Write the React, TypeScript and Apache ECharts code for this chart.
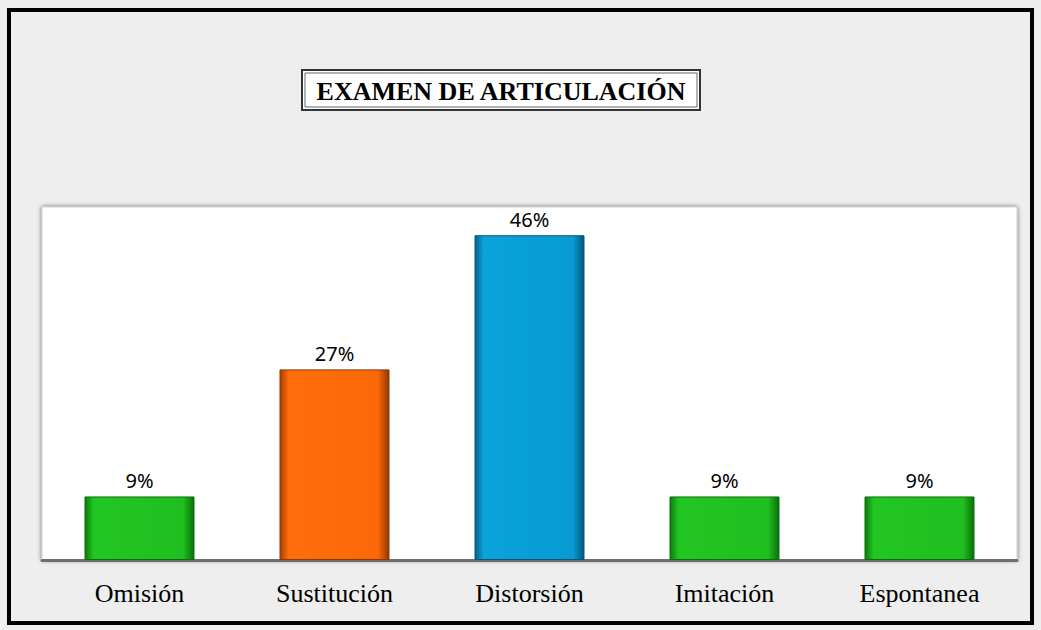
import React, { useEffect, useRef } from "react";
import * as echarts from "echarts";

const categories = ["Omisión", "Sustitución", "Distorsión", "Imitación", "Espontanea"];
const values = [9, 27, 46, 9, 9];
const valueLabels = ["9%", "27%", "46%", "9%", "9%"];
const titleText = "EXAMEN DE ARTICULACIÓN";

const palette = [
  ["#0b7d0b", "#22c622", "#1fbf1f", "#0a6f0a"],
  ["#a84000", "#ff6d0c", "#fb6808", "#8f3700"],
  ["#05608a", "#0aa3da", "#079bd2", "#04567c"],
  ["#0b7d0b", "#22c622", "#1fbf1f", "#0a6f0a"],
  ["#0b7d0b", "#22c622", "#1fbf1f", "#0a6f0a"],
];

function grad(c: string[]) {
  return new echarts.graphic.LinearGradient(0, 0, 1, 0, [
    { offset: 0, color: c[0] },
    { offset: 0.08, color: c[1] },
    { offset: 0.9, color: c[2] },
    { offset: 1, color: c[3] },
  ]);
}

export default function App() {
  const ref = useRef<HTMLDivElement>(null);
  useEffect(() => {
    document.body.style.margin = "0";
    const chart = echarts.init(ref.current!, null, { renderer: "svg" });
    chart.setOption({
      animation: false,
      backgroundColor: "#eeeeee",
      grid: {
        left: 42,
        right: 24,
        top: 207,
        bottom: 70,
        show: true,
        backgroundColor: "#ffffff",
        borderColor: "#d0d0d0",
        borderWidth: 1,
        shadowColor: "rgba(0,0,0,0.6)",
        shadowBlur: 4,
        shadowOffsetX: 0,
        shadowOffsetY: 0,
      },
      xAxis: {
        type: "category",
        data: categories,
        axisLine: { show: true, lineStyle: { color: "#6e6e6e", width: 3 } },
        axisTick: { show: false },
        axisLabel: {
          color: "#000",
          fontFamily: "Liberation Serif",
          fontSize: 26,
          margin: 20,
        },
      },
      yAxis: {
        type: "value",
        min: 0,
        max: 50,
        show: false,
        splitLine: { show: false },
      },
      graphic: [
        {
          type: "rect",
          shape: { x: 9, y: 10, width: 1023, height: 613 },
          style: { fill: "none", stroke: "#000", lineWidth: 4 },
          z: 100,
        },
        {
          type: "rect",
          shape: { x: 302, y: 70, width: 398, height: 40 },
          style: { fill: "#ffffff", stroke: "#333", lineWidth: 2 },
          z: 100,
        },
        {
          type: "rect",
          shape: { x: 305, y: 73, width: 392, height: 34 },
          style: { fill: "#ffffff", stroke: "#666", lineWidth: 1 },
          z: 100,
        },
        {
          type: "text",
          x: 501,
          y: 91,
          style: {
            text: titleText,
            fill: "#000",
            font: "bold 26px 'Liberation Serif'",
            align: "center",
            verticalAlign: "middle",
          },
          z: 101,
        },
      ],
      series: [
        {
          type: "bar",
          barWidth: 110,
          data: values.map((v, i) => ({
            value: v,
            itemStyle: { color: grad(palette[i]), borderColor: palette[i][3], borderWidth: 1 },
            label: { formatter: valueLabels[i] },
          })),
          label: {
            show: true,
            position: "top",
            distance: 6,
            color: "#000",
            fontFamily: "Noto Sans",
            fontSize: 20,
          },
        },
      ],
    });
    return () => chart.dispose();
  }, []);
  return <div ref={ref} style={{ width: 1041, height: 630 }} />;
}
